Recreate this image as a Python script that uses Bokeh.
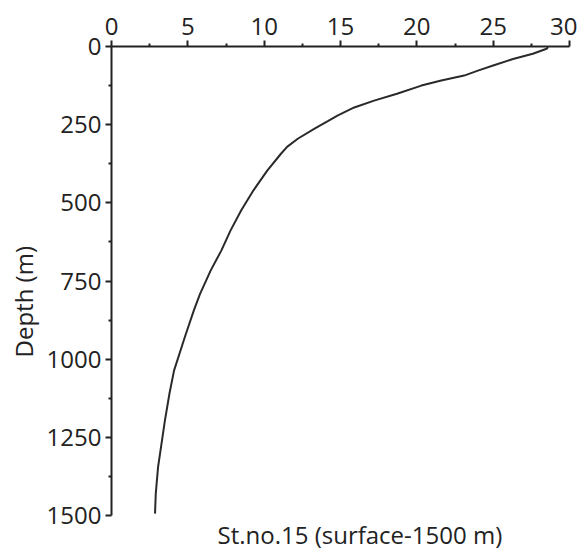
from bokeh.plotting import figure
from bokeh.models import Range1d, FixedTicker, Title
from bokeh.embed import file_html
from bokeh.resources import INLINE

# Temperature (x) vs depth (m)
temperature = [28.6, 28.5, 27.6, 26.3, 25.0, 24.0, 23.1, 21.6, 20.3, 18.7, 17.2, 15.9,
               14.8, 14.2, 13.3, 12.2, 11.5, 11.1, 10.2, 9.3, 8.5, 7.8, 7.2, 6.5, 5.8, 5.4,
               4.8, 4.1, 3.8, 3.5, 3.05, 2.9, 2.85]
depth = [2, 7, 23, 40, 61, 77, 93, 109, 125, 151, 173, 195,
         221, 238, 263, 295, 321, 343, 397, 460, 524, 588, 652, 716, 791, 843,
         930, 1036, 1109, 1196, 1345, 1430, 1494]

x_ticks = [0, 5, 10, 15, 20, 25, 30]
y_ticks = [0, 250, 500, 750, 1000, 1250, 1500]
x_minor = [2.5, 7.5, 12.5, 17.5, 22.5, 27.5]
y_minor = [125, 375, 625, 875, 1125, 1375]

FONT = "Open Sans"
FS = "24px"
INK = "#222222"

p = figure(width=577, height=552, output_backend="svg", toolbar_location=None,
           x_axis_location="above",
           x_range=Range1d(0, 30), y_range=Range1d(1500, 0),
           min_border_left=110, min_border_right=8, min_border_top=46,
           min_border_bottom=37)

p.line(temperature, depth, line_color="#2a2a2a", line_width=2)

p.outline_line_color = None
p.xgrid.visible = False
p.ygrid.visible = False

for ax, major, minor in ((p.xaxis[0], x_ticks, x_minor), (p.yaxis[0], y_ticks, y_minor)):
    ax.ticker = FixedTicker(ticks=major, minor_ticks=minor)
    ax.axis_line_color = INK
    ax.axis_line_width = 2
    ax.major_tick_line_color = INK
    ax.major_tick_line_width = 2
    ax.minor_tick_line_color = INK
    ax.minor_tick_line_width = 2
    ax.major_tick_in = 0
    ax.major_tick_out = 6
    ax.minor_tick_in = 0
    ax.minor_tick_out = 3
    ax.major_label_text_font = FONT
    ax.major_label_text_font_size = FS
    ax.major_label_text_color = INK
    ax.major_label_standoff = 4
p.xaxis[0].major_label_standoff = 6

# y-axis title as a side title, set a little below the frame centre
p.add_layout(Title(text="Depth (m)", align="left", offset=158, standoff=8,
                   text_font=FONT, text_font_size=FS, text_font_style="normal",
                   text_color=INK), "left")

p.add_layout(Title(text="St.no.15 (surface-1500 m)", align="left", offset=106,
                   standoff=0, vertical_align="bottom",
                   text_font=FONT, text_font_size=FS, text_font_style="normal",
                   text_color=INK), "below")

open("out.html", "w").write(file_html(p, INLINE))
